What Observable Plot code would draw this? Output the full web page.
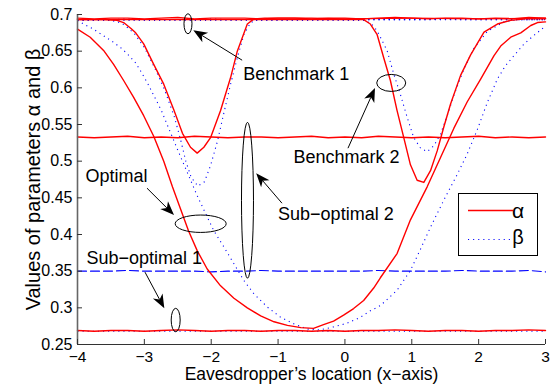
<!DOCTYPE html>
<html><head><meta charset="utf-8">
<script src="https://cdn.jsdelivr.net/npm/d3@7"></script>
<script src="https://cdn.jsdelivr.net/npm/@observablehq/plot@0.6"></script>
<style>body{margin:0;background:#fff}#chart{width:559px;height:389px}</style>
</head><body><div id="chart"></div>
<script>
// ---- tick values ----
const xTicks = [-4, -3, -2, -1, 0, 1, 2, 3];
const yTicks = [0.25, 0.3, 0.35, 0.4, 0.45, 0.5, 0.55, 0.6, 0.65, 0.7];

// ---- flat series (common x grid) ----
const gridX = [-4,-3.75,-3.5,-3.25,-3,-2.75,-2.5,-2.25,-2,-1.75,-1.5,-1.25,-1,-0.75,-0.5,-0.25,0,0.25,0.5,0.75,1,1.25,1.5,1.75,2,2.25,2.5,2.75,3];
const topAlpha = [0.695,0.694,0.695,0.695,0.694,0.695,0.696,0.694,0.695,0.695,0.695,0.694,0.695,0.695,0.694,0.695,0.695,0.694,0.695,0.696,0.695,0.694,0.695,0.695,0.694,0.695,0.694,0.696,0.695];
const topBeta  = [0.693,0.693,0.693,0.694,0.693,0.693,0.693,0.693,0.694,0.693,0.693,0.693,0.693,0.693,0.693,0.694,0.693,0.693,0.693,0.693,0.693,0.693,0.694,0.693,0.693,0.693,0.693,0.693,0.693];
const midAlpha = [0.533,0.532,0.533,0.534,0.532,0.533,0.532,0.534,0.533,0.532,0.533,0.533,0.532,0.533,0.534,0.532,0.533,0.532,0.534,0.533,0.532,0.533,0.532,0.533,0.534,0.532,0.533,0.532,0.533];
const dashBeta = [0.350,0.350,0.350,0.351,0.350,0.350,0.350,0.350,0.349,0.350,0.350,0.351,0.350,0.350,0.350,0.350,0.350,0.350,0.351,0.350,0.350,0.350,0.350,0.351,0.350,0.350,0.350,0.351,0.349];
const lowAlpha = [0.269,0.268,0.269,0.269,0.268,0.269,0.270,0.269,0.268,0.269,0.269,0.268,0.269,0.269,0.268,0.269,0.268,0.269,0.269,0.270,0.269,0.268,0.269,0.269,0.268,0.269,0.269,0.270,0.269];
const lowBeta  = [0.268,0.268,0.268,0.268,0.268,0.268,0.268,0.268,0.268,0.268,0.268,0.268,0.268,0.268,0.268,0.268,0.268,0.268,0.268,0.268,0.268,0.268,0.268,0.268,0.268,0.268,0.268,0.268,0.268];

// ---- dip near x = -2.2 ----
const dip1AlphaX = [-4,-3.6,-3.41,-3.31,-3.2,-3.13,-3.01,-2.86,-2.71,-2.56,-2.43,-2.31,-2.21,-2.11,-2.01,-1.86,-1.71,-1.61,-1.46,-1.36,-1.2,-0.5,0,1,2,3];
const dip1AlphaY = [0.693,0.693,0.692,0.689,0.681,0.675,0.660,0.632,0.605,0.570,0.538,0.519,0.511,0.519,0.532,0.569,0.614,0.650,0.687,0.694,0.695,0.695,0.694,0.695,0.694,0.695];
const dip1BetaX = [-4,-3.5,-3.4,-3.3,-3.15,-3.0,-2.85,-2.7,-2.55,-2.46,-2.38,-2.3,-2.2,-2.1,-2.01,-1.91,-1.81,-1.71,-1.61,-1.51,-1.41,-1.3,3];
const dip1BetaY = [0.692,0.692,0.690,0.686,0.674,0.655,0.628,0.598,0.560,0.530,0.500,0.478,0.466,0.472,0.494,0.526,0.566,0.605,0.641,0.673,0.689,0.693,0.693];

// ---- dip near x = 1.2 ----
const dip2AlphaX = [-4,0.28,0.38,0.48,0.58,0.68,0.78,0.88,0.98,1.08,1.18,1.28,1.38,1.48,1.58,1.73,1.88,2.08,2.28,2.48,2.7,3];
const dip2AlphaY = [0.693,0.693,0.687,0.673,0.641,0.610,0.569,0.532,0.495,0.474,0.471,0.487,0.514,0.547,0.578,0.617,0.645,0.676,0.687,0.692,0.694,0.694];
const dip2BetaX = [-4,0.3,0.4,0.48,0.63,0.73,0.83,0.93,1.03,1.13,1.23,1.33,1.43,1.53,1.63,1.78,1.93,2.13,2.38,2.6,3];
const dip2BetaY = [0.692,0.692,0.687,0.678,0.651,0.619,0.591,0.560,0.532,0.518,0.513,0.521,0.537,0.562,0.590,0.626,0.654,0.677,0.690,0.693,0.693];

// ---- optimal ----
const optAlphaX = [-4,-3.81,-3.61,-3.46,-3.31,-3.16,-3.01,-2.86,-2.71,-2.58,-2.46,-2.34,-2.21,-2.06,-1.86,-1.66,-1.46,-1.26,-1.06,-0.86,-0.66,-0.47,-0.41,-0.32,-0.17,-0.02,0.13,0.28,0.43,0.53,0.78,0.98,1.23,1.43,1.63,1.83,2.03,2.23,2.33,2.48,2.63,2.78,2.88,3];
const optAlphaY = [0.680,0.669,0.651,0.632,0.610,0.587,0.562,0.534,0.500,0.465,0.435,0.405,0.378,0.353,0.330,0.313,0.300,0.289,0.281,0.276,0.273,0.272,0.274,0.277,0.282,0.290,0.299,0.310,0.327,0.341,0.374,0.420,0.465,0.505,0.545,0.581,0.612,0.644,0.657,0.669,0.675,0.685,0.689,0.690];
const optBetaX = [-4,-3.91,-3.76,-3.61,-3.46,-3.33,-3.23,-3.13,-3.05,-2.95,-2.85,-2.75,-2.65,-2.5,-2.35,-2.21,-2.06,-1.96,-1.81,-1.66,-1.51,-1.36,-1.16,-0.96,-0.76,-0.56,-0.37,-0.17,0.03,0.23,0.38,0.53,0.78,0.98,1.13,1.28,1.48,1.68,1.83,1.98,2.13,2.28,2.40,2.53,2.68,2.82,2.97,3];
const optBetaY = [0.692,0.687,0.680,0.671,0.662,0.653,0.644,0.634,0.622,0.606,0.588,0.570,0.548,0.515,0.483,0.453,0.424,0.405,0.383,0.360,0.337,0.319,0.301,0.287,0.278,0.271,0.270,0.274,0.279,0.287,0.296,0.303,0.324,0.351,0.380,0.410,0.447,0.482,0.510,0.543,0.580,0.612,0.630,0.644,0.660,0.671,0.682,0.683];

// ---- annotations ----
const annoText  = ["Benchmark 1", "Benchmark 2", "Sub\u2212optimal 2", "Optimal", "Sub\u2212optimal 1"];
const annoTextX = [-1.52, -0.77, -1.0, -3.88, -3.865];
const annoTextY = [0.619, 0.505, 0.427, 0.479, 0.367];
const ellCX = [-2.34, 0.70, -1.45, -2.15, -2.524];
const ellCY = [0.6867, 0.606, 0.446, 0.414, 0.2827];
const arrFromX = [-1.53, 0.053, -0.934, -2.953, -2.983];
const arrFromY = [0.637, 0.517, 0.442, 0.4625, 0.348];
const arrToX   = [-2.26, 0.457, -1.32, -2.549, -2.694];
const arrToY   = [0.678, 0.599, 0.483, 0.4258, 0.2986];

const legendLabels = ["\u03b1", "\u03b2"];

// ---- build ----
const pts = (xs, ys) => xs.map((x, i) => ({x, y: ys[i]}));
const FONT = "'Liberation Sans', Arial, Helvetica, sans-serif";
const RED = "#ff0000", BLUE = "#0000ff";
const redLine = (d) => Plot.line(d, {x: "x", y: "y", stroke: RED, strokeWidth: 1.4});
const dotLine = (d) => Plot.line(d, {x: "x", y: "y", stroke: BLUE, strokeWidth: 1.1, strokeDasharray: "1.1,4", strokeLinecap: "butt"});
const fmtX = d => d < 0 ? "\u2212" + Math.abs(d) : String(d);
const fmtY = d => String(+d.toFixed(2));

const plot = Plot.plot({
  width: 559, height: 389,
  marginLeft: 77, marginRight: 14, marginTop: 14, marginBottom: 45,
  style: {fontFamily: FONT, background: "#fff", color: "#000"},
  x: {domain: [-4, 3]},
  y: {domain: [0.25, 0.7]},
  marks: [
    Plot.line(pts(gridX, dashBeta), {x: "x", y: "y", stroke: BLUE, strokeWidth: 1.1, strokeDasharray: "9,4"}),
    dotLine(pts(gridX, topBeta)),
    dotLine(pts(gridX, lowBeta)),
    dotLine(pts(dip1BetaX, dip1BetaY)),
    dotLine(pts(dip2BetaX, dip2BetaY)),
    dotLine(pts(optBetaX, optBetaY)),
    redLine(pts(gridX, topAlpha)),
    redLine(pts(gridX, midAlpha)),
    redLine(pts(gridX, lowAlpha)),
    redLine(pts(dip1AlphaX, dip1AlphaY)),
    redLine(pts(dip2AlphaX, dip2AlphaY)),
    redLine(pts(optAlphaX, optAlphaY)),
    Plot.ruleY([0.25], {stroke: "#333", strokeWidth: 1}),
    Plot.ruleX([-4], {stroke: "#666", strokeWidth: 1.6}),
    Plot.axisX({ticks: xTicks, tickSize: -5, tickFormat: () => "", label: null, stroke: "#333"}),
    Plot.axisX({ticks: xTicks, tickSize: 0, tickPadding: 6, tickFormat: fmtX, label: null, fontSize: 15.5, fill: "#000"}),
    Plot.axisY({ticks: yTicks, tickSize: -5, tickFormat: () => "", label: null, stroke: "#333"}),
    Plot.axisY({ticks: yTicks, tickSize: 0, tickPadding: 5, tickFormat: fmtY, label: null, fontSize: 16, fill: "#000"}),
    Plot.text(["Eavesdropper\u2019s location (x\u2212axis)"], {frameAnchor: "bottom", lineAnchor: "middle", textAnchor: "middle", dy: 30, fontSize: 17.5, fill: "#000"}),
    Plot.text(["Values of parameters \u03b1 and \u03b2"], {frameAnchor: "left", textAnchor: "middle", lineAnchor: "middle", dx: -44, rotate: -90, fontSize: 20, fill: "#000"}),
    Plot.text(annoText.map((t, i) => ({t, x: annoTextX[i], y: annoTextY[i]})), {x: "x", y: "y", text: "t", textAnchor: "start", fontSize: 18, fill: "#000"})
  ]
});
document.getElementById("chart").appendChild(plot);

// ---- ellipses, arrows, legend drawn with the plot's own scales ----
const sx = plot.scale("x"), sy = plot.scale("y");
const svg = d3.select(plot);
const ellRx = [4, 14.5, 6, 25.5, 4.5], ellRy = [10, 8.5, 78, 8.7, 11.7];
const g = svg.append("g");
ellCX.forEach((cx, i) => {
  g.append("ellipse").attr("cx", sx.apply(cx)).attr("cy", sy.apply(ellCY[i]))
    .attr("rx", ellRx[i]).attr("ry", ellRy[i]).attr("fill", "none").attr("stroke", "#000").attr("stroke-width", 1);
});
arrFromX.forEach((fx, i) => {
  const x1 = sx.apply(fx), y1 = sy.apply(arrFromY[i]);
  const x2 = sx.apply(arrToX[i]), y2 = sy.apply(arrToY[i]);
  const len = Math.hypot(x2 - x1, y2 - y1), ux = (x2 - x1) / len, uy = (y2 - y1) / len;
  const nx = -uy, ny = ux, L = 14, W = 5.5, notch = 4;
  const bx = x2 - (L - notch) * ux, by = y2 - (L - notch) * uy;
  g.append("line").attr("x1", x1).attr("y1", y1).attr("x2", bx).attr("y2", by).attr("stroke", "#000").attr("stroke-width", 1);
  const p = [[x2, y2], [x2 - L * ux + W * nx, y2 - L * uy + W * ny], [bx, by], [x2 - L * ux - W * nx, y2 - L * uy - W * ny]];
  g.append("path").attr("d", "M" + p.map(q => q.join(",")).join("L") + "Z").attr("fill", "#000");
});
const lg = svg.append("g").attr("font-family", FONT);
lg.append("rect").attr("x", 458.5).attr("y", 193.5).attr("width", 79).attr("height", 62).attr("fill", "#fff").attr("stroke", "#000").attr("stroke-width", 1);
lg.append("line").attr("x1", 468).attr("x2", 513).attr("y1", 210.5).attr("y2", 210.5).attr("stroke", RED).attr("stroke-width", 1.4);
lg.append("line").attr("x1", 468).attr("x2", 513).attr("y1", 239.5).attr("y2", 239.5).attr("stroke", BLUE).attr("stroke-width", 1.1).attr("stroke-dasharray", "1.1,4");
lg.append("text").attr("x", 518).attr("y", 218).attr("font-size", 21).text(legendLabels[0]);
lg.append("text").attr("x", 518).attr("y", 244).attr("font-size", 20).text(legendLabels[1]);
</script>
</body></html>
